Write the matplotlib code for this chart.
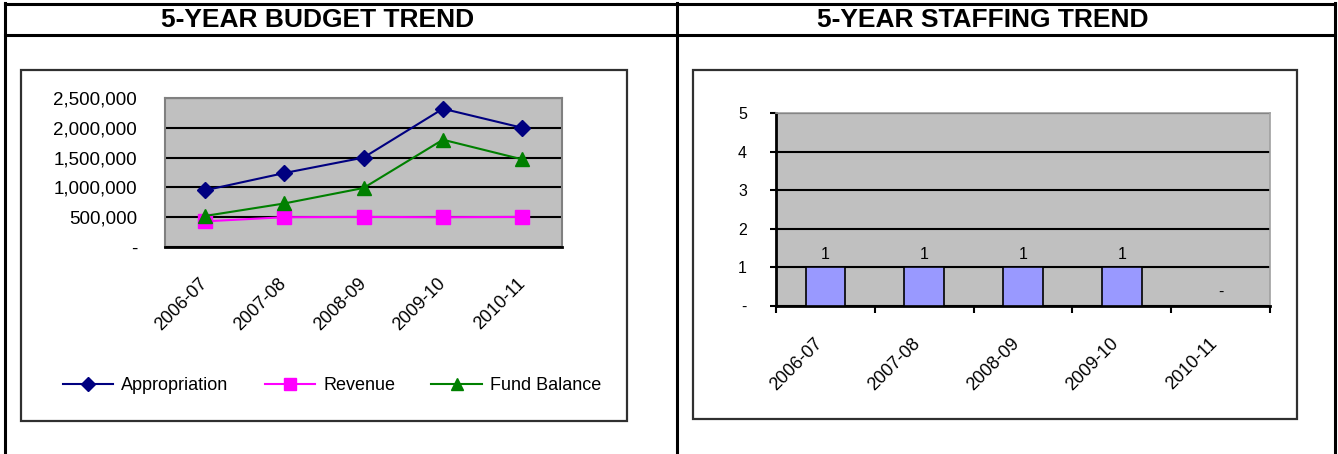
import matplotlib
matplotlib.use("Agg")
import matplotlib.pyplot as plt
import matplotlib.transforms as mtrans
from matplotlib.lines import Line2D
from matplotlib.patches import Rectangle
import numpy as np

plt.rcParams['font.family'] = ['Liberation Sans', 'DejaVu Sans']

years = ['2006-07', '2007-08', '2008-09', '2009-10', '2010-11']
appropriation = [950000, 1240000, 1500000, 2320000, 2000000]
revenue = [430000, 500000, 505000, 500000, 505000]
fund_balance = [520000, 730000, 990000, 1800000, 1470000]
staff = [1, 1, 1, 1, 0]

W, H = 1338, 454


def rect(x0, y0, x1, y1):
    # pixel box (top-left origin) -> figure fraction
    return [x0 / W, 1 - y1 / H, (x1 - x0) / W, (y1 - y0) / H]


def fx(x):
    return x / W


def fy(y):
    return 1 - y / H


fig = plt.figure(figsize=(W / 100, H / 100), dpi=100)

# outer table lines
for x in (5, 677, 1335):
    fig.add_artist(Line2D([fx(x), fx(x)], [fy(3), 0], color='black', lw=2.2))
for y in (4, 35):
    fig.add_artist(Line2D([fx(5), fx(1335)], [fy(y), fy(y)], color='black', lw=2.2))
fig.text(fx(318), fy(20), '5-YEAR BUDGET TREND', ha='center', va='center',
         fontsize=19, fontweight='bold')
fig.text(fx(983), fy(20), '5-YEAR STAFFING TREND', ha='center', va='center',
         fontsize=19, fontweight='bold')

# chart frames
for x0, y0, x1, y1 in ((21, 70, 627, 421), (693, 70, 1297, 419)):
    fig.add_artist(Rectangle((fx(x0), fy(y1)), fx(x1) - fx(x0), fy(y0) - fy(y1),
                             transform=fig.transFigure, fill=False,
                             edgecolor='#303030', lw=1.6))

# ---- budget chart ----
ax = fig.add_axes(rect(165, 98, 562, 247))
ax.set_facecolor('#C0C0C0')
x = np.arange(len(years))
ax.plot(x, appropriation, color='#000080', marker='D', ms=8, lw=1.5,
        label='Appropriation')
ax.plot(x, revenue, color='#FF00FF', marker='s', ms=10, lw=1.5,
        label='Revenue')
ax.plot(x, fund_balance, color='#008000', marker='^', ms=10, lw=1.5,
        label='Fund Balance')
ax.set_xlim(-0.5, len(years) - 0.5)
ax.set_ylim(0, 2500000)
yt = [0, 500000, 1000000, 1500000, 2000000, 2500000]
ax.set_yticks(yt)
ax.set_yticklabels(['-'] + [f'{v:,}' for v in yt[1:]])
ax.yaxis.grid(True, color='black', lw=1.5)
ax.set_axisbelow(True)
ax.set_xticks(x)
ax.set_xticklabels(years, rotation=45, ha='right', va='top')
ax.tick_params(axis='y', length=0, pad=20, labelsize=13.5)
ax.tick_params(axis='x', length=0, pad=20, labelsize=13)
shift = mtrans.ScaledTranslation(0.06, 0, fig.dpi_scale_trans)
for lab in ax.get_xticklabels():
    lab.set_transform(lab.get_transform() + shift)
for s in ('left', 'right', 'top'):
    ax.spines[s].set_color('#808080')
    ax.spines[s].set_linewidth(1.5)
ax.spines['bottom'].set_color('black')
ax.spines['bottom'].set_linewidth(2)
ax.legend(loc='center', bbox_to_anchor=(fx(332), fy(386)),
          bbox_transform=fig.transFigure, ncol=3, frameon=False,
          fontsize=13, handlelength=2.8, columnspacing=2.0, handletextpad=0.45,
          markerscale=0.9)

# ---- staffing chart ----
ax2 = fig.add_axes(rect(776, 113, 1270, 306))
ax2.set_facecolor('#C0C0C0')
ax2.bar(x, staff, width=0.4, color='#9999FF', edgecolor='black', lw=1.2,
        zorder=3)
for xi, v in zip(x, staff):
    ax2.text(xi, v + 0.15, str(v) if v else '-', ha='center', va='bottom',
             fontsize=11.5)
ax2.set_xlim(-0.5, len(years) - 0.5)
ax2.set_ylim(0, 5)
ax2.set_yticks(range(6))
ax2.set_yticklabels(['-', '1', '2', '3', '4', '5'])
ax2.yaxis.grid(True, color='black', lw=1.5)
ax2.set_axisbelow(True)
ax2.set_xticks(np.arange(-0.5, len(years), 1.0))
ax2.set_xticklabels([])
ax2.set_xticks(x, minor=True)
ax2.set_xticklabels(years, minor=True, rotation=45, ha='right', va='top')
ax2.tick_params(axis='x', which='major', direction='out', length=5, width=1.5,
                color='black')
ax2.tick_params(axis='x', which='minor', length=0, pad=21, labelsize=13)
ax2.yaxis.set_tick_params(direction='out', length=4, width=1.5, pad=17,
                          labelsize=11.5)
for s in ('right', 'top'):
    ax2.spines[s].set_color('#A0A0A0')
    ax2.spines[s].set_linewidth(1.2)
for s in ('left', 'bottom'):
    ax2.spines[s].set_color('black')
    ax2.spines[s].set_linewidth(2)

fig.savefig('out.png', dpi=100)
